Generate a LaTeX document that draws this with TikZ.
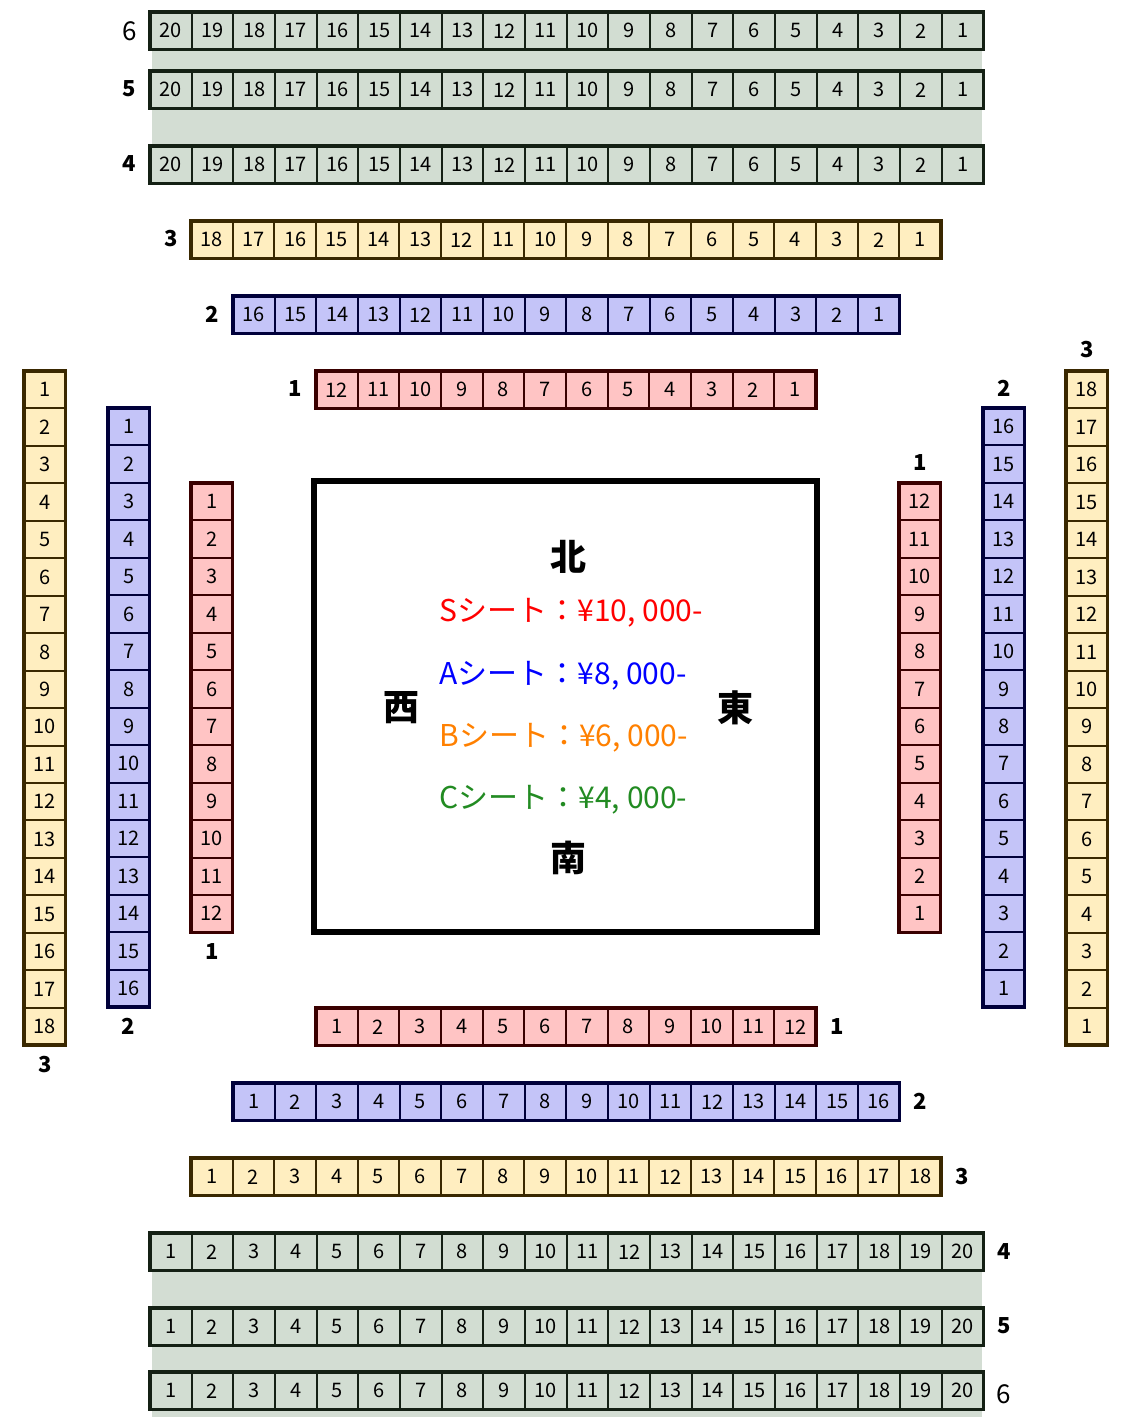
\documentclass[tikz,border=0pt]{standalone}
\usepackage{fontspec}
\setmainfont{Noto Sans CJK JP}
\begin{document}
\begin{tikzpicture}[x=1pt,y=-1pt,
  seat/.style={rectangle,minimum width=41.67pt,minimum height=37.5pt,inner sep=0pt,outer sep=0pt,line width=2pt,font=\fontsize{20}{21}\selectfont},
  vseat/.style={seat,minimum width=41.67pt,minimum height=37.45pt},
  sS/.style={fill=sfill,draw=sline},
  sA/.style={fill=afill,draw=aline},
  sB/.style={fill=bfill,draw=bline},
  sC/.style={fill=cfill,draw=cline},
  rl/.style={font=\fontsize{22}{24}\selectfont\bfseries},
  rl6/.style={font=\fontsize{26}{28}\selectfont},
  price/.style={anchor=west,font=\fontsize{30}{32}\selectfont},
  dir/.style={font=\fontsize{36}{38}\selectfont\bfseries}]
\definecolor{sfill}{HTML}{FFC4C4}\definecolor{sline}{HTML}{3A0000}
\definecolor{afill}{HTML}{C4C4F8}\definecolor{aline}{HTML}{00003A}
\definecolor{bfill}{HTML}{FFEEC0}\definecolor{bline}{HTML}{3A2800}
\definecolor{cfill}{HTML}{D2DDD2}\definecolor{cline}{HTML}{142014}
\definecolor{band}{HTML}{D3DDD3}
\newcommand\seatrow[6]{%
  \foreach \i in {1,...,#4}{\pgfmathtruncatemacro\lab{#6==1 ? #4+1-\i : \i}
    \node[seat,#5] (#1-\i) at ({#2+(\i-0.5)*41.67},{#3+18.75}) {\lab};}
  \draw[#5,fill=none,line width=3.5pt] (#1-1.north west) rectangle (#1-#4.south east);}
\newcommand\seatcol[6]{%
  \foreach \i in {1,...,#4}{\pgfmathtruncatemacro\lab{#6==1 ? #4+1-\i : \i}
    \node[vseat,#5] (#1-\i) at ({#2+20.83},{#3+(\i-0.5)*37.45}) {\lab};}
  \draw[#5,fill=none,line width=3.5pt] (#1-1.north west) rectangle (#1-#4.south east);}
\useasboundingbox (0,0) rectangle (1133,1417);
\fill[band] (152,49) rectangle (982,146);
\fill[band] (152,1270) rectangle (982,1417);
% north
\seatrow{n6}{150}{12}{20}{sC}{1}
\seatrow{n5}{150}{71}{20}{sC}{1}
\seatrow{n4}{150}{146}{20}{sC}{1}
\seatrow{n3}{191}{221}{18}{sB}{1}
\seatrow{n2}{233}{296}{16}{sA}{1}
\seatrow{n1}{316}{371}{12}{sS}{1}
% south
\seatrow{s1}{316}{1008}{12}{sS}{0}
\seatrow{s2}{233}{1083}{16}{sA}{0}
\seatrow{s3}{191}{1158}{18}{sB}{0}
\seatrow{s4}{150}{1233}{20}{sC}{0}
\seatrow{s5}{150}{1308}{20}{sC}{0}
\seatrow{s6}{150}{1372}{20}{sC}{0}
% west
\seatcol{w3}{24}{371}{18}{sB}{0}
\seatcol{w2}{108}{408}{16}{sA}{0}
\seatcol{w1}{191}{483}{12}{sS}{0}
% east
\seatcol{e1}{899}{483}{12}{sS}{1}
\seatcol{e2}{983}{408}{16}{sA}{1}
\seatcol{e3}{1066}{371}{18}{sB}{1}
% row labels
\node[rl6] (ln6) at (130,31) {6};
\node[rl] (ln5) at (129,89) {5};
\node[rl] (ln4) at (129,164) {4};
\node[rl] (ln3) at (171,239) {3};
\node[rl] (ln2) at (212,314) {2};
\node[rl] (ln1) at (295,389) {1};
\node[rl] (ls1) at (837,1026) {1};
\node[rl] (ls2) at (920,1101) {2};
\node[rl] (ls3) at (962,1176) {3};
\node[rl] (ls4) at (1004,1251) {4};
\node[rl] (ls5) at (1004,1326) {5};
\node[rl6] (ls6) at (1004,1394) {6};
\node[rl] (lw3) at (45,1064) {3};
\node[rl] (lw2) at (128,1026) {2};
\node[rl] (lw1) at (212,951) {1};
\node[rl] (le1) at (920,463) {1};
\node[rl] (le2) at (1004,388) {2};
\node[rl] (le3) at (1087,350) {3};
% stage
\draw[line width=6pt] (314,481) rectangle (817,932);
\node[dir] (kita) at (568,557) {北};
\node[dir] (minami) at (568,858) {南};
\node[dir] (nishi) at (401,708) {西};
\node[dir] (higashi) at (735,708) {東};
\node[price,text=red] (ps) at (436,613) {Sシート：¥10, 000-};
\node[price,text=blue] (pa) at (436,676) {Aシート：¥8, 000-};
\node[price,text=orange] (pb) at (436,738) {Bシート：¥6, 000-};
\node[price,text={rgb,255:red,34;green,139;blue,34}] (pc) at (436,800) {Cシート：¥4, 000-};
\end{tikzpicture}
\end{document}
